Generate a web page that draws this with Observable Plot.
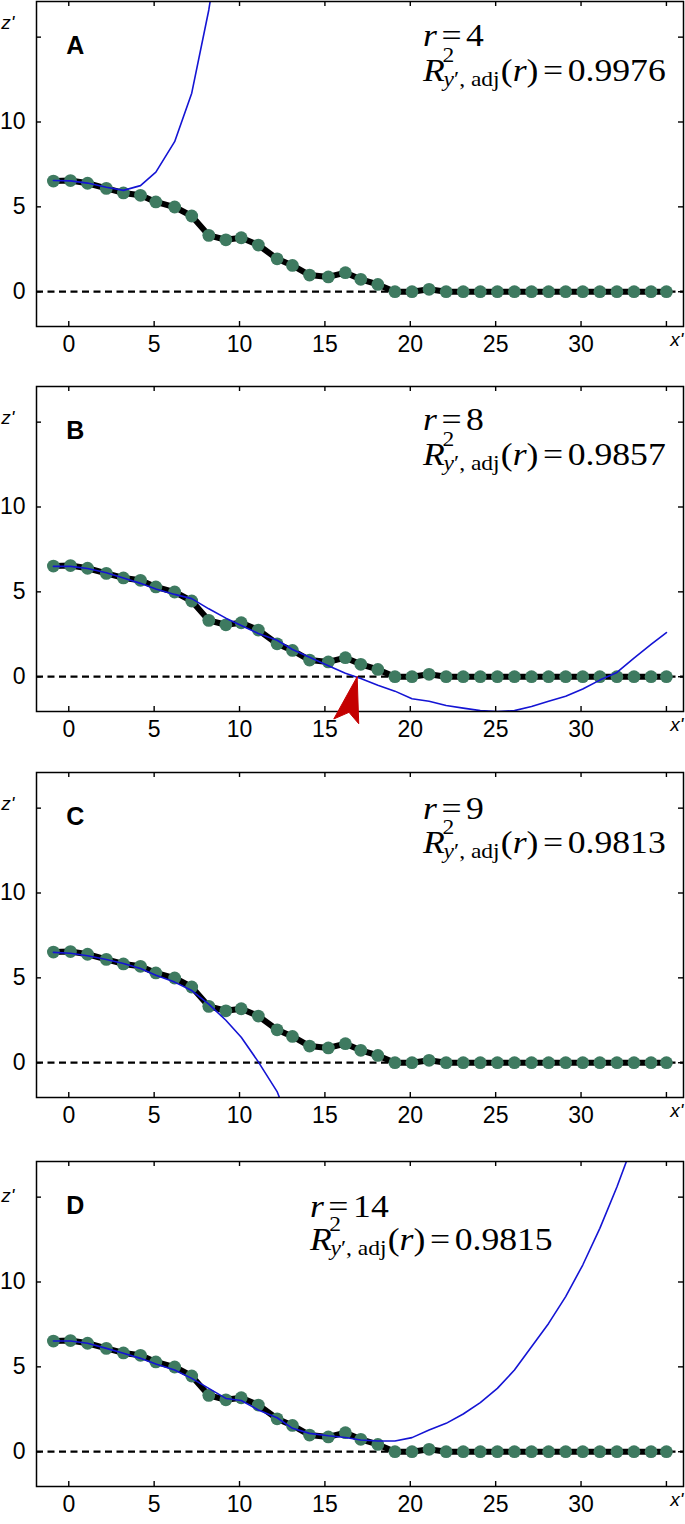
<!DOCTYPE html>
<html>
<head>
<meta charset="utf-8">
<script src="https://cdn.jsdelivr.net/npm/d3@7"></script>
<script src="https://cdn.jsdelivr.net/npm/@observablehq/plot@0.6"></script>
<style>
  html, body { margin: 0; padding: 0; background: #fff; }
  body { width: 685px; height: 1524px; overflow: hidden; position: relative; }
  .panel { position: absolute; left: 0; }
</style>
</head>
<body>
<div id="root"></div>
<script>
// ---------- data ----------
const xPos = [-0.9, 0.1, 1.1, 2.2, 3.2, 4.2, 5.1, 6.2, 7.2, 8.2, 9.2, 10.1, 11.1, 12.2, 13.1, 14.1, 15.2, 16.2, 17.1, 18.1, 19.1, 20.1, 21.1, 22.1, 23.1, 24.1, 25.1, 26.1, 27.1, 28.1, 29.1, 30.1, 31.1, 32.1, 33.1, 34.1, 35.0];
const zData = [6.52, 6.55, 6.39, 6.09, 5.82, 5.68, 5.29, 4.99, 4.46, 3.32, 3.06, 3.18, 2.75, 1.94, 1.55, 0.98, 0.87, 1.12, 0.73, 0.43, 0, 0, 0.14, 0, 0, 0, 0, 0, 0, 0, 0, 0, 0, 0, 0, 0, 0];
// polynomial fits (blue), evaluated at the first n x positions
const fitA = [6.55, 6.53, 6.4, 6.15, 5.97, 6.25, 7.05, 8.84, 11.7, 16.6, 23.0];
const fitB = [6.5, 6.5, 6.38, 6.12, 5.82, 5.5, 5.17, 4.85, 4.6, 4.0, 3.45, 3.02, 2.55, 2.15, 1.6, 1.15, 0.65, 0.2, -0.1, -0.5, -0.85, -1.3, -1.45, -1.7, -1.85, -2.0, -2.05, -2.0, -1.75, -1.45, -1.15, -0.72, -0.2, 0.25, 1.1, 1.9, 2.6];
const fitC = [6.5, 6.45, 6.3, 6.08, 5.85, 5.55, 5.15, 4.75, 4.25, 3.45, 2.5, 1.5, 0.05, -1.7, -4.0];
const fitD = [6.52, 6.52, 6.39, 6.09, 5.8, 5.5, 5.17, 4.81, 4.32, 3.73, 3.14, 3.02, 2.46, 2.0, 1.38, 1.08, 0.94, 0.84, 0.69, 0.63, 0.63, 0.83, 1.28, 1.67, 2.22, 2.89, 3.73, 4.81, 6.19, 7.56, 9.14, 11.0, 13.16, 15.6, 18.3, 21.0, 23.5];
const panelLetters = ["A", "B", "C", "D"];
const rValues = ["4", "8", "9", "14"];
const r2Values = ["0.9976", "0.9857", "0.9813", "0.9815"];
const xTicks = [0, 5, 10, 15, 20, 25, 30, 35];
const xTickLabels = [0, 5, 10, 15, 20, 25, 30];
const yTicks = [0, 5, 10, 15];
const yTickLabels = [0, 5, 10];
// red arrowhead in panel B (data units)
const arrowX = [16.89, 15.52, 16.41, 16.98, 16.89];
const arrowY = [0, -2.49, -2.1, -2.77, 0];

// ---------- layout ----------
const W = 685, M_LEFT = 36, M_RIGHT = 2, M_TOP = 4, FRAME_H = 325, M_BOTTOM = 46;
const FRAME_W = W - M_LEFT - M_RIGHT;
const X_DOMAIN = [-1.89, 36.0];
const Y_DOMAIN = [-2.05, 17.1];
const PX_PER_Y = FRAME_H / (Y_DOMAIN[1] - Y_DOMAIN[0]);
const zeroPx = [290.7, 676, 1062.7, 1451.7];
const formulaX = [20.77, 20.77, 20.77, 14.15];
const formulaY = [14.45, 14.5, 14.35, 13.8];
const lineGap = [35, 35, 34, 33];
const zLabelY = [15.5, 14.9, 14.9, 14.7];

const serif = "'Liberation Serif', 'Times New Roman', serif";
const sans = "'Liberation Sans', Arial, Helvetica, sans-serif";
const fits = [fitA, fitB, fitC, fitD];
const root = document.getElementById("root");

fits.forEach((fit, i) => {
  const pts = xPos.map((x, j) => ({x, z: zData[j]}));
  const fitPts = fit.map((z, j) => ({x: xPos[j], z}));
  const tickStyle = {stroke: "#000", strokeWidth: 1.4};
  const marks = [
    Plot.ruleY([0], {stroke: "#000", strokeWidth: 2.3, strokeDasharray: "7,4.5"}),
    Plot.line(pts, {x: "x", y: "z", stroke: "#000", strokeWidth: 6}),
    Plot.dot(pts, {x: "x", y: "z", r: 6.4, fill: "#3e7a60", stroke: "none"}),
    Plot.line(fitPts, {x: "x", y: "z", stroke: "#1414d4", strokeWidth: 1.6, clip: true}),
    Plot.ruleX(xTicks, {...tickStyle, insetTop: FRAME_H - 5}),
    Plot.ruleX(xTicks, {...tickStyle, insetBottom: FRAME_H - 5}),
    Plot.ruleY(yTicks, {...tickStyle, insetRight: FRAME_W - 5}),
    Plot.ruleY(yTicks, {...tickStyle, insetLeft: FRAME_W - 5}),
    Plot.frame({stroke: "#000", strokeWidth: 1.5}),
    Plot.axisX({ticks: xTickLabels, anchor: "bottom", tickSize: 0, tickPadding: 9, fontSize: 23, fontFamily: sans, label: null}),
    Plot.axisY({ticks: yTickLabels, anchor: "left", tickSize: 0, tickPadding: 11, fontSize: 23, fontFamily: sans, label: null}),
    Plot.text([panelLetters[i]], {x: [-0.15], y: [14], textAnchor: "start", lineAnchor: "bottom", fontWeight: "bold", fontSize: 25, fontFamily: sans}),
    Plot.text(["z'"], {y: [zLabelY[i]], frameAnchor: "left", dx: -22, textAnchor: "end", lineAnchor: "bottom", fontStyle: "italic", fontSize: 19, fontFamily: sans}),
    Plot.text(["x'"], {frameAnchor: "bottom-right", dy: 19, textAnchor: "end", lineAnchor: "bottom", fontStyle: "italic", fontSize: 19, fontFamily: sans})
  ];
  if (i === 1) {
    marks.push(Plot.line(arrowX.map((x, k) => ({x, z: arrowY[k]})), {x: "x", y: "z", fill: "#c40000", stroke: "#c40000", strokeWidth: 1, strokeLinejoin: "miter"}));
  }
  const plot = Plot.plot({
    width: W,
    height: M_TOP + FRAME_H + M_BOTTOM,
    marginLeft: M_LEFT, marginRight: M_RIGHT, marginTop: M_TOP, marginBottom: M_BOTTOM,
    x: {domain: X_DOMAIN, axis: null},
    y: {domain: Y_DOMAIN, axis: null},
    style: {fontFamily: sans, background: "transparent", overflow: "visible", color: "#000"},
    marks
  });
  const div = document.createElement("div");
  div.className = "panel";
  div.style.top = (zeroPx[i] - (M_TOP + Y_DOMAIN[1] * PX_PER_Y)) + "px";
  div.appendChild(plot);
  root.appendChild(div);

  // formula annotation, positioned with the plot's scales
  const F = 31;
  const X0 = plot.scale("x").apply(formulaX[i]);
  const Y0 = plot.scale("y").apply(formulaY[i]);
  const g = d3.select(plot).append("g")
    .attr("font-family", serif).attr("font-size", F).attr("fill", "#000")
    .attr("text-anchor", "start");
  const t1 = g.append("text").attr("x", 0).attr("y", 0).attr("text-anchor", "start");
  t1.append("tspan").attr("font-style", "italic").text("r");
  t1.append("tspan").attr("dx", 4).text("=");
  t1.append("tspan").attr("dx", 4).text(rValues[i]);

  const gap = lineGap[i];
  const t2 = g.append("text").attr("x", 0).attr("y", gap).attr("text-anchor", "start");
  const tR = t2.append("tspan").attr("font-style", "italic").text("R");
  const wR = tR.node().getComputedTextLength();
  t2.append("tspan").attr("x", wR - 2).attr("y", gap - 19).attr("font-size", F * 0.66).text("2");
  const s1 = t2.append("tspan").attr("x", wR - 1).attr("y", gap + 5).attr("font-size", F * 0.66).attr("font-style", "italic").text("y");
  const s2 = t2.append("tspan").attr("font-size", F * 0.66).text("\u2032, adj");
  const wSub = s1.node().getComputedTextLength() + s2.node().getComputedTextLength();
  t2.append("tspan").attr("x", wR - 1 + wSub + 1).attr("y", gap).text("(");
  t2.append("tspan").attr("font-style", "italic").text("r");
  t2.append("tspan").text(")");
  t2.append("tspan").attr("dx", 4).text("=");
  t2.append("tspan").attr("dx", 4).text(r2Values[i]);
  const bw = t2.node().getBBox().width;
  const sx = 244 / bw;
  g.attr("transform", `translate(${X0},${Y0}) scale(${sx},1)`);
});
</script>
</body>
</html>
